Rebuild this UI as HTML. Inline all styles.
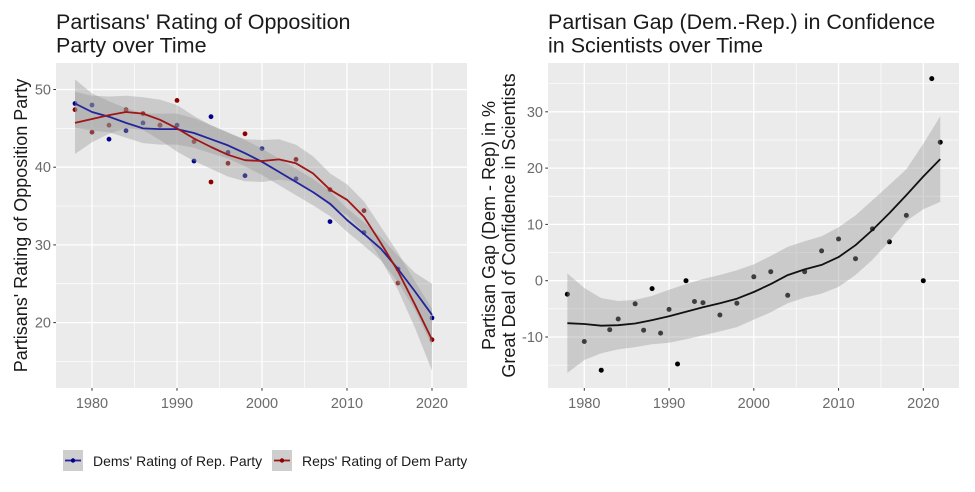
<!DOCTYPE html>
<html><head><meta charset="utf-8"><style>
html,body{margin:0;padding:0;background:#fff;}
svg{display:block;font-family:"Liberation Sans",Arial,sans-serif;}
</style></head><body>
<svg width="975" height="492" viewBox="0 0 975 492" xmlns="http://www.w3.org/2000/svg">
<rect x="0" y="0" width="975" height="492" fill="#fff"/>

<!-- ===== LEFT PANEL ===== -->
<text x="56" y="29" font-size="21.5" fill="#1a1a1a">Partisans' Rating of Opposition</text>
<text x="56" y="52.5" font-size="21.5" fill="#1a1a1a">Party over Time</text>

<rect x="56" y="63" width="411" height="325" fill="#EBEBEB"/>
<g stroke="#fff" stroke-width="0.65">
<line x1="134.5" y1="63" x2="134.5" y2="388"/><line x1="219.5" y1="63" x2="219.5" y2="388"/>
<line x1="304.5" y1="63" x2="304.5" y2="388"/><line x1="389.5" y1="63" x2="389.5" y2="388"/>
<line x1="56" y1="361.45" x2="467" y2="361.45"/><line x1="56" y1="283.75" x2="467" y2="283.75"/>
<line x1="56" y1="206.05" x2="467" y2="206.05"/><line x1="56" y1="128.35" x2="467" y2="128.35"/>
</g>
<g stroke="#fff" stroke-width="1.3">
<line x1="92" y1="63" x2="92" y2="388"/><line x1="177" y1="63" x2="177" y2="388"/>
<line x1="262" y1="63" x2="262" y2="388"/><line x1="347" y1="63" x2="347" y2="388"/>
<line x1="432" y1="63" x2="432" y2="388"/>
<line x1="56" y1="322.6" x2="467" y2="322.6"/><line x1="56" y1="244.9" x2="467" y2="244.9"/>
<line x1="56" y1="167.2" x2="467" y2="167.2"/><line x1="56" y1="89.5" x2="467" y2="89.5"/>
</g>

<!-- points -->
<g fill="#00008B">
<circle cx="75" cy="103.5" r="2.4"/><circle cx="92" cy="105" r="2.4"/><circle cx="109" cy="139.2" r="2.4"/>
<circle cx="126" cy="130.7" r="2.4"/><circle cx="143" cy="122.9" r="2.4"/><circle cx="160" cy="125.2" r="2.4"/>
<circle cx="177" cy="125.2" r="2.4"/><circle cx="194" cy="161" r="2.4"/><circle cx="211" cy="116.7" r="2.4"/>
<circle cx="228" cy="152.4" r="2.4"/><circle cx="245" cy="175.7" r="2.4"/><circle cx="262" cy="148.6" r="2.4"/>
<circle cx="296" cy="178.9" r="2.4"/><circle cx="330" cy="221.6" r="2.4"/><circle cx="364" cy="232.5" r="2.4"/>
<circle cx="398" cy="269" r="2.4"/><circle cx="432" cy="317.9" r="2.4"/>
</g>
<g fill="#8B0000">
<circle cx="75" cy="109.7" r="2.4"/><circle cx="92" cy="132.2" r="2.4"/><circle cx="109" cy="125.2" r="2.4"/>
<circle cx="126" cy="109.7" r="2.4"/><circle cx="143" cy="113.6" r="2.4"/><circle cx="160" cy="125.2" r="2.4"/>
<circle cx="177" cy="100.4" r="2.4"/><circle cx="194" cy="141.6" r="2.4"/><circle cx="211" cy="182" r="2.4"/>
<circle cx="228" cy="163.3" r="2.4"/><circle cx="245" cy="133.8" r="2.4"/><circle cx="296" cy="159.4" r="2.4"/>
<circle cx="330" cy="189.7" r="2.4"/><circle cx="364" cy="210.7" r="2.4"/><circle cx="398" cy="283" r="2.4"/>
<circle cx="432" cy="339.7" r="2.4"/>
</g>

<!-- ribbons -->
<polygon fill="#999999" fill-opacity="0.4" points="75,79.4 92,93.4 109,101.2 126,108.1 143,113.55 160,113.6 177,113.6 194,118.2 211,125.2 228,132.2 245,140 262,148.6 279,158.7 296,168.8 313,178.9 330,191.3 347,208.3 364,222.3 381,237.1 398,255.8 415,272.9 432,283.7 432,345.9 415,310.1 398,282.2 381,260.5 364,245.7 347,231.7 330,216.1 313,205.3 296,195.2 279,185.1 262,175 245,166.4 228,158.6 211,153.2 194,147.8 177,144.6 160,144.6 143,143.15 126,137.7 109,132.2 92,130.6 75,127.6"/>
<polygon fill="#999999" fill-opacity="0.4" points="75,91.8 92,95.7 109,96.5 126,95.7 143,97.3 160,99.6 177,105.05 194,116 211,125.2 228,133 245,139.2 262,140 279,139.2 296,144.7 313,156.3 330,173.4 347,184.3 364,201.4 381,227 398,252.7 415,281.4 432,308.6 432,370.8 415,328 398,289.9 381,259.6 364,232.4 347,215.3 330,206 313,190.5 296,181.9 279,179.6 262,182 245,181.2 228,176.6 211,168.8 194,161 177,151.65 160,140 143,129.9 126,128.3 109,133.7 92,142.3 75,154"/>

<!-- lines -->
<polyline fill="none" stroke="#23239C" stroke-width="1.8" stroke-linejoin="round" points="75,103.5 92,112 109,116.7 126,122.9 143,128.35 160,129.1 177,129.1 194,133 211,139.2 228,145.4 245,153.2 262,161.8 279,171.9 296,182 313,192.1 330,203.7 347,220 364,234 381,248.8 398,269 415,291.5 432,314.8"/>
<polyline fill="none" stroke="#A01515" stroke-width="1.8" stroke-linejoin="round" points="75,122.9 92,119 109,115.1 126,112 143,113.6 160,119.8 177,128.35 194,138.5 211,147 228,154.8 245,160.2 262,161 279,159.4 296,163.3 313,173.4 330,189.7 347,199.8 364,216.9 381,243.3 398,271.3 415,304.7 432,339.7"/>

<!-- axes ticks -->
<g stroke="#333" stroke-width="1">
<line x1="53.3" y1="322.6" x2="56" y2="322.6"/><line x1="53.3" y1="244.9" x2="56" y2="244.9"/>
<line x1="53.3" y1="167.2" x2="56" y2="167.2"/><line x1="53.3" y1="89.5" x2="56" y2="89.5"/>
<line x1="92" y1="388" x2="92" y2="390.7"/><line x1="177" y1="388" x2="177" y2="390.7"/>
<line x1="262" y1="388" x2="262" y2="390.7"/><line x1="347" y1="388" x2="347" y2="390.7"/>
<line x1="432" y1="388" x2="432" y2="390.7"/>
</g>
<g font-size="14.5" fill="#6b6b6b" text-anchor="end">
<text x="51" y="327.6">20</text><text x="51" y="249.9">30</text>
<text x="51" y="172.2">40</text><text x="51" y="94.5">50</text>
</g>
<g font-size="14.5" fill="#6b6b6b" text-anchor="middle">
<text x="92" y="408">1980</text><text x="177" y="408">1990</text><text x="262" y="408">2000</text>
<text x="347" y="408">2010</text><text x="432" y="408">2020</text>
</g>
<text transform="translate(27,225.5) rotate(-90)" text-anchor="middle" font-size="18" fill="#1a1a1a">Partisans' Rating of Opposition Party</text>

<!-- legend -->
<rect x="63" y="450" width="20" height="21" fill="#CECECE"/>
<line x1="65" y1="460.5" x2="81" y2="460.5" stroke="#23239C" stroke-width="1.8"/>
<circle cx="73" cy="460.5" r="2.2" fill="#00008B"/>
<text x="93" y="466" font-size="14" fill="#1a1a1a">Dems' Rating of Rep. Party</text>
<rect x="272" y="450" width="20" height="21" fill="#CECECE"/>
<line x1="274" y1="460.5" x2="290" y2="460.5" stroke="#A01515" stroke-width="1.8"/>
<circle cx="282" cy="460.5" r="2.2" fill="#8B0000"/>
<text x="302" y="466" font-size="14" fill="#1a1a1a">Reps' Rating of Dem Party</text>

<!-- ===== RIGHT PANEL ===== -->
<text x="548" y="29" font-size="21.5" fill="#1a1a1a">Partisan Gap (Dem.-Rep.) in Confidence</text>
<text x="548" y="52.5" font-size="21.5" fill="#1a1a1a">in Scientists over Time</text>

<rect x="548" y="63" width="411" height="325" fill="#EBEBEB"/>
<g stroke="#fff" stroke-width="0.65">
<line x1="626.68" y1="63" x2="626.68" y2="388"/><line x1="711.43" y1="63" x2="711.43" y2="388"/>
<line x1="796.18" y1="63" x2="796.18" y2="388"/><line x1="880.93" y1="63" x2="880.93" y2="388"/>
<line x1="548" y1="365.15" x2="959" y2="365.15"/><line x1="548" y1="308.85" x2="959" y2="308.85"/>
<line x1="548" y1="252.55" x2="959" y2="252.55"/><line x1="548" y1="196.25" x2="959" y2="196.25"/>
<line x1="548" y1="139.95" x2="959" y2="139.95"/><line x1="548" y1="83.65" x2="959" y2="83.65"/>
</g>
<g stroke="#fff" stroke-width="1.3">
<line x1="584.3" y1="63" x2="584.3" y2="388"/><line x1="669.05" y1="63" x2="669.05" y2="388"/>
<line x1="753.8" y1="63" x2="753.8" y2="388"/><line x1="838.55" y1="63" x2="838.55" y2="388"/>
<line x1="923.3" y1="63" x2="923.3" y2="388"/>
<line x1="548" y1="337" x2="959" y2="337"/><line x1="548" y1="280.7" x2="959" y2="280.7"/>
<line x1="548" y1="224.4" x2="959" y2="224.4"/><line x1="548" y1="168.1" x2="959" y2="168.1"/>
<line x1="548" y1="111.8" x2="959" y2="111.8"/>
</g>

<g fill="#000">
<circle cx="567.35" cy="294.2" r="2.5"/><circle cx="584.3" cy="341.5" r="2.5"/><circle cx="601.25" cy="370.2" r="2.5"/>
<circle cx="609.73" cy="329.7" r="2.5"/><circle cx="618.2" cy="319" r="2.5"/><circle cx="635.15" cy="303.8" r="2.5"/>
<circle cx="643.63" cy="330.2" r="2.5"/><circle cx="652.1" cy="288.6" r="2.5"/><circle cx="660.58" cy="333.1" r="2.5"/>
<circle cx="669.05" cy="309.4" r="2.5"/><circle cx="677.53" cy="364" r="2.5"/><circle cx="686" cy="280.7" r="2.5"/>
<circle cx="694.48" cy="301.5" r="2.5"/><circle cx="702.95" cy="302.7" r="2.5"/><circle cx="719.9" cy="315" r="2.5"/>
<circle cx="736.85" cy="303.2" r="2.5"/><circle cx="753.8" cy="276.8" r="2.5"/><circle cx="770.75" cy="271.7" r="2.5"/>
<circle cx="787.7" cy="295.3" r="2.5"/><circle cx="804.65" cy="271.7" r="2.5"/><circle cx="821.6" cy="250.9" r="2.5"/>
<circle cx="838.55" cy="239" r="2.5"/><circle cx="855.5" cy="258.7" r="2.5"/><circle cx="872.45" cy="228.9" r="2.5"/>
<circle cx="889.4" cy="241.8" r="2.5"/><circle cx="906.35" cy="215.4" r="2.5"/><circle cx="923.3" cy="280.7" r="2.5"/>
<circle cx="931.78" cy="78.6" r="2.5"/><circle cx="940.25" cy="142.2" r="2.5"/>
</g>

<polygon fill="#999999" fill-opacity="0.4" points="567.35,273.4 584.3,288 601.25,298.1 618.2,301 635.15,299.9 652.1,295.9 669.05,289.7 686,284.1 702.95,279 719.9,275 736.85,270.3 753.8,264.4 770.75,255.9 787.7,246.9 804.65,241.2 821.6,236.2 838.55,227.3 855.5,215.4 872.45,200.2 889.4,184.9 906.35,169.2 923.3,143.8 940.25,116.3 940.25,201.9 923.3,209.2 906.35,221 889.4,241.3 872.45,259.8 855.5,275 838.55,286.9 821.6,293.6 804.65,297.6 787.7,303.3 770.75,312.3 753.8,319.6 736.85,327.1 719.9,331.4 702.95,335.4 686,339.3 669.05,342.7 652.1,344.3 635.15,347.1 618.2,349.4 601.25,353.3 584.3,360 567.35,373"/>

<polyline fill="none" stroke="#111" stroke-width="1.8" stroke-linejoin="round" points="567.35,323.2 584.3,324 601.25,325.7 618.2,325.2 635.15,323.5 652.1,320.1 669.05,316.2 686,311.7 702.95,307.2 719.9,303.2 736.85,298.7 753.8,292 770.75,284.1 787.7,275.1 804.65,269.4 821.6,264.9 838.55,257.1 855.5,245.2 872.45,230 889.4,213.1 906.35,195.1 923.3,176.5 940.25,159.1"/>

<g stroke="#333" stroke-width="1">
<line x1="545.3" y1="337" x2="548" y2="337"/><line x1="545.3" y1="280.7" x2="548" y2="280.7"/>
<line x1="545.3" y1="224.4" x2="548" y2="224.4"/><line x1="545.3" y1="168.1" x2="548" y2="168.1"/>
<line x1="545.3" y1="111.8" x2="548" y2="111.8"/>
<line x1="584.3" y1="388" x2="584.3" y2="390.7"/><line x1="669.05" y1="388" x2="669.05" y2="390.7"/>
<line x1="753.8" y1="388" x2="753.8" y2="390.7"/><line x1="838.55" y1="388" x2="838.55" y2="390.7"/>
<line x1="923.3" y1="388" x2="923.3" y2="390.7"/>
</g>
<g font-size="14.5" fill="#6b6b6b" text-anchor="end">
<text x="543" y="342">-10</text><text x="543" y="285.7">0</text><text x="543" y="229.4">10</text>
<text x="543" y="173.1">20</text><text x="543" y="116.8">30</text>
</g>
<g font-size="14.5" fill="#6b6b6b" text-anchor="middle">
<text x="584.3" y="408">1980</text><text x="669.05" y="408">1990</text><text x="753.8" y="408">2000</text>
<text x="838.55" y="408">2010</text><text x="923.3" y="408">2020</text>
</g>
<text transform="translate(495,225.5) rotate(-90)" text-anchor="middle" font-size="18" fill="#1a1a1a">Partisan Gap (Dem - Rep) in %</text>
<text transform="translate(515,225.5) rotate(-90)" text-anchor="middle" font-size="18" fill="#1a1a1a">Great Deal of Confidence in Scientists</text>
</svg>
</body></html>
